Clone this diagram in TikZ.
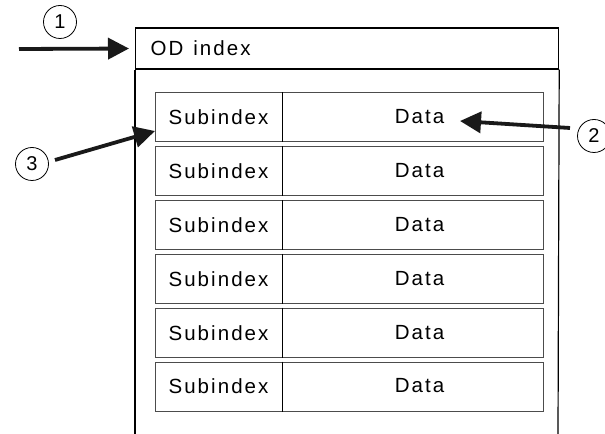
\documentclass[tikz,border=0pt]{standalone}
\usepackage{fontspec}
\setmainfont{Liberation Sans}
\newfontfamily\spacedfont[LetterSpace=10]{Liberation Sans}
\usetikzlibrary{arrows.meta, positioning, calc}

\begin{document}
\begin{tikzpicture}[x=1bp, y=-1bp,
        frame/.style={draw, line width=1.2bp},
        hdrbox/.style={frame, anchor=west, minimum height=41bp, text width=393bp, inner xsep=15bp, align=left, font=\spacedfont\fontsize{20.5bp}{22bp}\selectfont},
        subbox/.style={draw, black!70, text=black, line width=1bp, minimum width=127bp, minimum height=49bp, inner sep=0pt, font=\spacedfont\fontsize{20.5bp}{22bp}\selectfont},
        databox/.style={subbox, minimum width=261bp},
        callout/.style={draw, circle, line width=0.8bp, minimum size=33bp, inner sep=0pt, font=\fontsize{20bp}{22bp}\selectfont},
        ptr/.style={-{Triangle[length=21bp, width=21bp]}, line width=3.8bp, black!90}
    ]
        \useasboundingbox (0,0) rectangle (605,434);

        % Object dictionary entry (header + open body)
        \node[hdrbox] (odhdr) at (135, 48.5) {OD\hspace{10bp}index};
        \coordinate (lbot) at (135, 434);
        \coordinate (rbot) at (558, 434);
        \draw[frame] (odhdr.south west) -- (lbot);
        \draw[frame] (odhdr.south east) -- (rbot);

        % Subindex / data rows
        \foreach \i in {1,...,6} {
            \node[subbox]  (sub\i)  at (218.5, {117.5 + 53.8*(\i-1)}) {\raisebox{-3bp}{Subindex}};
            \node[databox] (data\i) at (412.5, {117.5 + 53.8*(\i-1)}) {\hspace{14bp}\raisebox{1.5bp}{Data}};
            \draw[line width=1.2bp] (sub\i.north east) -- (sub\i.south east);
        }

        % Numbered callouts
        \node[callout] (c1) at (60, 22) {1};
        \node[callout] (c2) at (594, 136) {2};
        \node[callout] (c3) at (32, 164) {3};

        % Pointers
        \coordinate (t1) at (19, 49);
        \coordinate (t2) at (570, 128);
        \coordinate (h2) at (460, 121);
        \coordinate (t3) at (55, 160);
        \coordinate (h3) at (155, 131);
        \draw[ptr, shorten >=6bp] (t1) -- (odhdr.west);
        \draw[ptr] (t2) -- (h2);
        \draw[ptr] (t3) -- (h3);

    \end{tikzpicture}
\end{document}
